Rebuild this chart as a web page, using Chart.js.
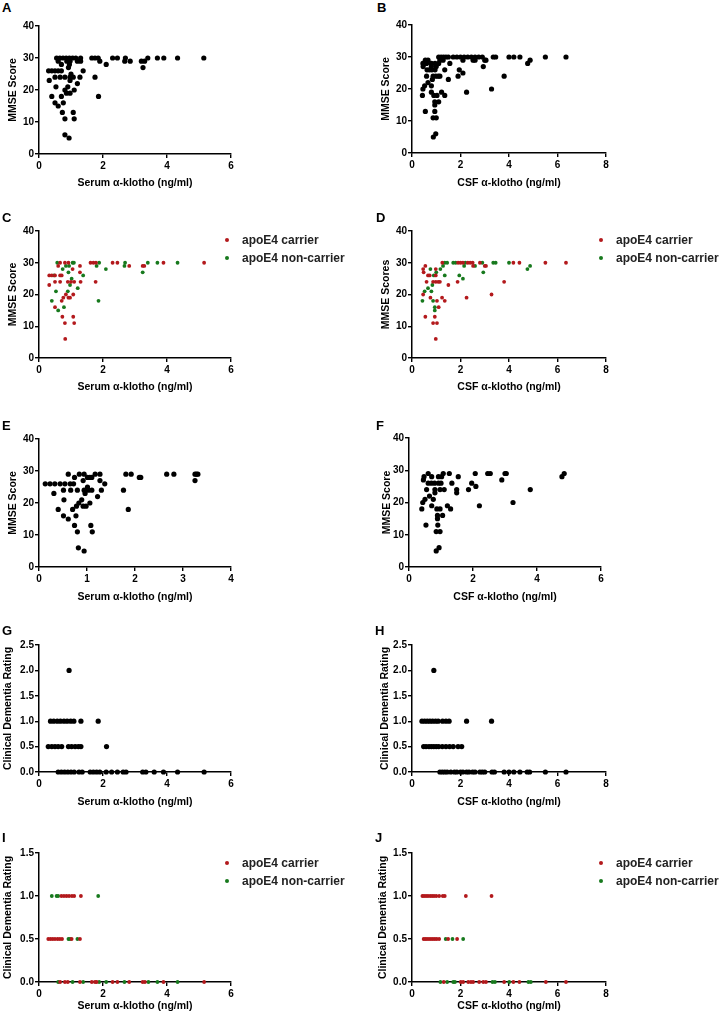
<!DOCTYPE html>
<html>
<head>
<meta charset="utf-8">
<script src="https://cdn.jsdelivr.net/npm/chart.js@4.4.1/dist/chart.umd.min.js"></script>
<style>
  body { margin: 0; background: #fff; font-family: Arial, "Liberation Sans", sans-serif; }
  #fig { position: relative; width: 720px; height: 1016px; overflow: hidden; }
  .box { position: absolute; }
  .tag { position: absolute; font-weight: bold; font-size: 13px; line-height: 13px; color: #000; }
  .key { position: absolute; font-weight: bold; font-size: 12px; line-height: 14px; color: #222; white-space: nowrap; }
  .key i { position: absolute; left: -17px; top: 5px; width: 4px; height: 4px; border-radius: 50%; }
</style>
</head>
<body>
<div id="fig"></div>
<script>
// values, [klotho ng/ml, score]
const serumMmse = [
  [0.55,30],[0.65,30],[0.75,30],[0.85,30],[0.95,30],[1.05,30],[1.15,30],[1.3,30],[1.65,30],[1.75,30],
  [1.85,30],[2.3,30],[2.45,30],[2.7,30],[3.4,30],[3.7,30],[3.9,30],[4.33,30],[5.15,30],
  [0.6,29],[0.87,29],[0.97,29],[1.2,29],[1.3,29],[1.9,29],[2.68,29],[2.85,29],[3.2,29],[3.3,29],
  [0.7,28],[0.95,28],[2.1,28],[0.92,27],[3.25,27],
  [0.3,26],[0.4,26],[0.5,26],[0.6,26],[0.7,26],[1.38,26],[1.0,25],
  [0.5,24],[0.66,24],[0.81,24],[0.97,24],[1.07,24],[1.28,24],[1.75,24],
  [0.32,23],[0.97,23],[1.2,22],[0.53,21],[0.9,21],[0.81,20],[1.1,20],[0.86,19],[0.97,19],
  [0.4,18],[0.7,18],[1.86,18],[0.5,16],[0.76,16],[0.6,15],[0.73,13],[1.07,13],
  [0.81,11],[1.1,11],[0.81,6],[0.94,5]
];
const csfMmse = [
  [1.1,30],[1.2,30],[1.3,30],[1.4,30],[1.5,30],[1.7,30],[1.85,30],[2.0,30],[2.15,30],[2.3,30],[2.45,30],
  [2.6,30],[2.75,30],[2.9,30],[3.35,30],[3.45,30],[4.0,30],[4.2,30],[4.45,30],[5.5,30],[6.35,30],
  [0.55,29],[0.66,29],[1.15,29],[1.28,29],[2.1,29],[2.52,29],[2.6,29],[3.0,29],[3.05,29],[4.87,29],
  [0.45,28],[0.6,28],[0.8,28],[0.95,28],[1.1,28],[1.56,28],[4.77,28],
  [0.46,27],[0.8,27],[1.0,27],[2.94,27],
  [0.62,26],[0.72,26],[0.82,26],[0.95,26],[1.35,26],[1.95,26],[2.1,25],
  [0.6,24],[0.87,24],[0.98,24],[1.08,24],[1.15,24],[1.9,24],[3.8,24],
  [0.84,23],[1.5,23],[0.66,22],[0.52,21],[0.8,21],[0.45,20],[3.28,20],
  [0.8,19],[1.22,19],[2.25,19],[0.43,18],[0.9,18],[1.03,18],[1.35,18],
  [0.94,16],[1.1,16],[0.94,15],[0.55,13],[0.94,13],[0.87,11],[1.0,11],[0.98,6],[0.88,5]
];
const serumMmseCarrier = [
  [0.66,30],[0.81,30],[0.92,30],[1.61,30],[1.7,30],[1.78,30],[2.3,30],[2.45,30],[3.89,30],[5.16,30],
  [0.6,29],[1.28,29],[2.82,29],[3.24,29],[3.29,29],[1.05,28],[1.28,27],
  [0.32,26],[0.4,26],[0.5,26],[0.66,26],[0.71,26],
  [0.5,24],[0.66,24],[0.9,24],[1.0,24],[1.1,24],[1.3,24],[1.77,24],
  [0.32,23],[0.84,20],[1.07,20],[0.76,19],[0.92,19],[0.97,19],[0.71,18],[0.5,16],
  [0.73,13],[1.07,13],[0.81,11],[1.1,11],[0.82,6]
];
const serumMmseNon = [
  [0.57,30],[1.05,30],[1.09,30],[1.88,30],[2.69,30],[3.4,30],[3.7,30],[4.33,30],
  [0.84,29],[0.94,29],[1.8,29],[2.67,29],[0.74,28],[2.09,28],[0.92,27],[3.24,27],
  [0.47,26],[1.38,26],[1.02,25],[0.97,23],[1.21,22],[0.53,21],[0.9,21],
  [0.4,18],[1.86,18],[0.78,16],[0.6,15]
];
const csfMmseCarrier = [
  [1.25,30],[1.9,30],[2.0,30],[2.1,30],[2.3,30],[2.4,30],[2.5,30],[2.8,30],[4.18,30],[4.43,30],[5.5,30],[6.35,30],
  [0.55,29],[2.52,29],[3.0,29],[3.05,29],[0.46,28],[0.98,28],[0.48,27],
  [0.66,26],[0.73,26],[0.98,26],
  [0.6,24],[0.87,24],[0.98,24],[1.08,24],[1.15,24],[1.88,24],[3.8,24],
  [1.5,23],[0.46,20],[3.28,20],[0.76,19],[1.24,19],[2.25,19],[1.03,18],[1.35,18],
  [1.1,16],[0.55,13],[0.94,13],[0.87,11],[1.03,11],[0.98,6]
];
const csfMmseNon = [
  [1.35,30],[1.45,30],[1.7,30],[1.8,30],[2.2,30],[2.9,30],[3.35,30],[3.45,30],[4.0,30],
  [1.28,29],[2.15,29],[2.6,29],[4.87,29],[0.76,28],[1.17,28],[4.76,28],[1.0,27],[2.94,27],
  [0.9,26],[1.35,26],[1.95,26],[2.1,25],[0.84,23],[0.66,22],[0.52,21],[0.8,21],
  [0.43,18],[0.87,18],[0.94,16],[0.94,15]
];
const serumMmseSub = [
  [0.61,29],[0.84,29],[0.94,29],[1.17,29],[1.27,29],[1.81,29],[1.92,29],[2.66,29],[2.81,29],[3.25,29],[3.28,29],[3.31,29],
  [0.74,28],[1.01,28],[1.06,28],[1.1,28],[2.09,28],[2.12,28],[0.92,27],[1.27,27],[3.25,27],
  [0.13,26],[0.23,26],[0.33,26],[0.44,26],[0.54,26],[0.65,26],[0.72,26],[1.37,26],[1.01,25],
  [0.51,24],[0.66,24],[0.8,24],[0.94,24],[1.03,24],[1.1,24],[1.3,24],[1.76,24],
  [0.31,23],[0.96,23],[1.22,22],[0.52,21],[0.89,21],[0.83,20],[1.06,20],[0.78,19],[0.92,19],[0.98,19],
  [0.4,18],[0.7,18],[1.86,18],[0.51,16],[0.77,16],[0.61,15],[0.74,13],[1.08,13],
  [0.8,11],[1.11,11],[0.82,6],[0.94,5]
];
const csfMmseSub = [
  [0.6,29],[1.07,29],[1.26,29],[2.07,29],[2.46,29],[2.54,29],[3.0,29],[3.04,29],[4.85,29],
  [0.47,28],[0.71,28],[0.92,28],[1.02,28],[1.54,28],[4.78,28],[0.45,27],[2.9,27],
  [0.6,26],[0.7,26],[0.8,26],[0.92,26],[1.0,26],[1.34,26],[1.96,26],[2.09,25],
  [0.55,24],[0.81,24],[0.97,24],[1.1,24],[1.49,24],[1.86,24],[3.79,24],
  [0.81,23],[1.49,23],[0.64,22],[0.5,21],[0.76,21],[0.43,20],[3.25,20],
  [0.71,19],[1.2,19],[2.2,19],[0.4,18],[0.87,18],[0.97,18],[1.3,18],
  [0.89,16],[1.05,16],[0.89,15],[0.53,13],[0.9,13],[0.85,11],[0.97,11],[0.94,6],[0.85,5]
];
const serumCdr = [
  [0.94,2],
  [0.36,1],[0.46,1],[0.57,1],[0.67,1],[0.78,1],[0.88,1],[0.99,1],[1.09,1],[1.31,1],[1.85,1],
  [0.29,0.5],[0.4,0.5],[0.5,0.5],[0.6,0.5],[0.71,0.5],[0.92,0.5],[1.02,0.5],[1.13,0.5],[1.23,0.5],[1.31,0.5],[2.11,0.5],
  [0.6,0],[0.7,0],[0.8,0],[0.9,0],[1.0,0],[1.1,0],[1.25,0],[1.35,0],[1.6,0],[1.7,0],[1.8,0],[1.9,0],
  [2.1,0],[2.27,0],[2.45,0],[2.63,0],[2.72,0],[3.24,0],[3.34,0],[3.6,0],[3.89,0],[4.33,0],[5.16,0]
];
const csfCdr = [
  [0.9,2],
  [0.41,1],[0.52,1],[0.63,1],[0.74,1],[0.85,1],[0.97,1],[1.08,1],[1.26,1],[1.4,1],[1.53,1],[2.25,1],[3.28,1],
  [0.48,0.5],[0.58,0.5],[0.7,0.5],[0.8,0.5],[0.9,0.5],[1.0,0.5],[1.1,0.5],[1.25,0.5],[1.4,0.5],[1.55,0.5],[1.7,0.5],[1.9,0.5],[2.05,0.5],
  [1.15,0],[1.25,0],[1.35,0],[1.45,0],[1.6,0],[1.75,0],[1.85,0],[2.0,0],[2.1,0],[2.25,0],[2.35,0],[2.5,0],[2.6,0],
  [2.8,0],[2.9,0],[3.0,0],[3.3,0],[3.4,0],[3.8,0],[4.0,0],[4.2,0],[4.45,0],[4.75,0],[4.85,0],[5.5,0],[6.35,0]
];
const serumCdrCarrier = [
  [0.7,1],[0.78,1],[0.86,1],[0.94,1],[1.03,1],[1.1,1],[1.31,1],
  [0.29,0.5],[0.36,0.5],[0.43,0.5],[0.5,0.5],[0.58,0.5],[0.65,0.5],[0.72,0.5],[1.02,0.5],[1.28,0.5],
  [0.66,0],[0.81,0],[0.9,0],[1.28,0],[1.65,0],[1.75,0],[1.8,0],[2.3,0],[2.45,0],[2.82,0],[3.24,0],[3.31,0],[3.89,0],[5.16,0]
];
const serumCdrNon = [
  [0.4,1],[0.55,1],[0.6,1],[1.85,1],[0.92,0.5],[0.97,0.5],[1.2,0.5],
  [0.6,0],[1.05,0],[1.38,0],[1.88,0],[2.1,0],[2.67,0],[3.42,0],[3.7,0],[4.33,0]
];
const csfCdrCarrier = [
  [0.43,1],[0.5,1],[0.58,1],[0.66,1],[0.75,1],[0.83,1],[0.91,1],[1.0,1],[1.12,1],[1.27,1],[1.35,1],[2.22,1],[3.28,1],
  [0.48,0.5],[0.55,0.5],[0.62,0.5],[0.7,0.5],[0.78,0.5],[0.86,0.5],[0.94,0.5],[1.02,0.5],[1.12,0.5],[1.49,0.5],[1.86,0.5],
  [1.31,0],[2.01,0],[2.11,0],[2.32,0],[2.43,0],[2.52,0],[2.77,0],[2.94,0],[3.05,0],[3.8,0],[4.18,0],[4.43,0],[5.52,0],[6.35,0]
];
const csfCdrNon = [
  [1.39,0.5],[1.67,0.5],[2.11,0.5],
  [1.17,0],[1.45,0],[1.7,0],[1.77,0],[3.32,0],[3.42,0],[4.01,0],[4.8,0],[4.9,0]
];

const seriesNames = ["apoE4 carrier", "apoE4 non-carrier"];
const serumTitle = "Serum α-klotho (ng/ml)";
const csfTitle = "CSF α-klotho (ng/ml)";

const FONT = 'Arial, "Liberation Sans", sans-serif';
const BLACK = "#000000";
const RED = "#b3191c";
const GREEN = "#17791d";
const fig = document.getElementById("fig");

function drawPanel(p) {
  const top = p.yTop - 10;
  const w = 360;
  const h = Math.round(p.titleY + 6.3 - top);
  const wrap = document.createElement("div");
  wrap.className = "box";
  wrap.style.left = p.left + "px";
  wrap.style.top = top + "px";
  const cv = document.createElement("canvas");
  cv.width = w; cv.height = h;
  cv.style.width = w + "px"; cv.style.height = h + "px";
  wrap.appendChild(cv);
  fig.appendChild(wrap);

  const axisW = p.x0 - p.left;
  const axisH = h - (p.yBot - top);
  const tickFont = { family: FONT, size: 10, weight: "bold" };
  const titleFont = { family: FONT, size: 10.5, weight: "bold", lineHeight: 1.2 };

  new Chart(cv.getContext("2d"), {
    type: "scatter",
    data: {
      datasets: p.sets.map(s => ({
        label: s.label,
        data: s.data,
        backgroundColor: s.color,
        borderColor: s.color,
        borderWidth: 0,
        pointRadius: s.r,
        pointHoverRadius: s.r,
        clip: false
      }))
    },
    options: {
      responsive: false,
      animation: false,
      events: [],
      layout: { padding: { top: 10, right: w - (p.x1 - p.left), left: 0, bottom: 0 } },
      plugins: { legend: { display: false }, tooltip: { enabled: false } },
      scales: {
        x: {
          type: "linear", min: 0, max: p.xMax,
          ticks: { stepSize: p.xStep, color: BLACK, font: tickFont, padding: 2, maxRotation: 0 },
          grid: { drawOnChartArea: false, drawTicks: true, tickLength: 4, color: BLACK, lineWidth: 1.4 },
          border: { color: BLACK, width: 1.5 },
          title: { display: true, text: p.xTitle, color: BLACK, font: titleFont, padding: 0 },
          afterFit: s => { s.height = axisH; }
        },
        y: {
          type: "linear", min: 0, max: p.yMax,
          ticks: {
            stepSize: p.yStep, color: BLACK, font: tickFont, padding: 1,
            callback: v => v.toFixed(p.yDec)
          },
          grid: { drawOnChartArea: false, drawTicks: true, tickLength: 4, color: BLACK, lineWidth: 1.4 },
          border: { color: BLACK, width: 1.5 },
          title: {
            display: true, text: p.yTitle, color: BLACK, font: titleFont,
            padding: { top: Math.max(0, p.yTitleX - p.left - 6.3), bottom: 0 }
          },
          afterFit: s => { s.width = axisW; }
        }
      }
    }
  });
}

function tag(letter, x, y) {
  const d = document.createElement("div");
  d.className = "tag";
  d.style.left = x + "px";
  d.style.top = y + "px";
  d.textContent = letter;
  fig.appendChild(d);
}

function key(x, y, colors) {
  colors.forEach((c, i) => {
    const d = document.createElement("div");
    d.className = "key";
    d.style.left = x + "px";
    d.style.top = (y - 7 + i * 17.5) + "px";
    const dot = document.createElement("i");
    dot.style.background = c;
    d.appendChild(dot);
    d.appendChild(document.createTextNode(seriesNames[i]));
    fig.appendChild(d);
  });
}

const mmse = { yMax: 40, yStep: 10, yDec: 0 };
const cdr = { yMax: 2.5, yStep: 0.5, yDec: 1 };
const cdr2 = { yMax: 1.5, yStep: 0.5, yDec: 1 };
const black = d => [{ data: d, color: BLACK, r: 2.6 }];
const split = (a, b) => [
  { label: seriesNames[0], data: a, color: RED, r: 1.9 },
  { label: seriesNames[1], data: b, color: GREEN, r: 1.9 }
];

// left column
drawPanel({ ...mmse, left: 0, x0: 39, x1: 231, yTop: 26, yBot: 154, titleY: 183, yTitleX: 13,
  xMax: 6, xStep: 2, xTitle: serumTitle, yTitle: "MMSE Score", sets: black(serumMmse) });
drawPanel({ ...mmse, left: 0, x0: 39, x1: 231, yTop: 231, yBot: 358, titleY: 387, yTitleX: 13,
  xMax: 6, xStep: 2, xTitle: serumTitle, yTitle: "MMSE Score", sets: split(serumMmseCarrier, serumMmseNon) });
drawPanel({ ...mmse, left: 0, x0: 39, x1: 231, yTop: 439, yBot: 567, titleY: 597, yTitleX: 13,
  xMax: 4, xStep: 1, xTitle: serumTitle, yTitle: "MMSE Score", sets: black(serumMmseSub) });
drawPanel({ ...cdr, left: 0, x0: 39, x1: 231, yTop: 645, yBot: 772, titleY: 802, yTitleX: 8,
  xMax: 6, xStep: 2, xTitle: serumTitle, yTitle: "Clinical Dementia Rating", sets: black(serumCdr) });
drawPanel({ ...cdr2, left: 0, x0: 39, x1: 231, yTop: 853, yBot: 982, titleY: 1006, yTitleX: 8,
  xMax: 6, xStep: 2, xTitle: serumTitle, yTitle: "Clinical Dementia Rating", sets: split(serumCdrCarrier, serumCdrNon) });

// right column
drawPanel({ ...mmse, left: 360, x0: 412, x1: 606, yTop: 25, yBot: 153, titleY: 183, yTitleX: 386,
  xMax: 8, xStep: 2, xTitle: csfTitle, yTitle: "MMSE Score", sets: black(csfMmse) });
drawPanel({ ...mmse, left: 360, x0: 412, x1: 606, yTop: 231, yBot: 358, titleY: 387, yTitleX: 386,
  xMax: 8, xStep: 2, xTitle: csfTitle, yTitle: "MMSE Scores", sets: split(csfMmseCarrier, csfMmseNon) });
drawPanel({ ...mmse, left: 360, x0: 409, x1: 601, yTop: 438, yBot: 567, titleY: 597, yTitleX: 387,
  xMax: 6, xStep: 2, xTitle: csfTitle, yTitle: "MMSE Score", sets: black(csfMmseSub) });
drawPanel({ ...cdr, left: 360, x0: 412, x1: 606, yTop: 645, yBot: 772, titleY: 802, yTitleX: 385,
  xMax: 8, xStep: 2, xTitle: csfTitle, yTitle: "Clinical Dementia Rating", sets: black(csfCdr) });
drawPanel({ ...cdr2, left: 360, x0: 412, x1: 606, yTop: 853, yBot: 982, titleY: 1006, yTitleX: 383,
  xMax: 8, xStep: 2, xTitle: csfTitle, yTitle: "Clinical Dementia Rating", sets: split(csfCdrCarrier, csfCdrNon) });

tag("A", 2, 0.7);   tag("B", 377, 0.7);
tag("C", 2, 210.7); tag("D", 376, 210.7);
tag("E", 2, 419);   tag("F", 376, 419);
tag("G", 2, 624);   tag("H", 375, 624);
tag("I", 2, 831);   tag("J", 375, 831);

key(242, 240, [RED, GREEN]);
key(616, 240, [RED, GREEN]);
key(242, 863, [RED, GREEN]);
key(616, 863, [RED, GREEN]);
</script>
</body>
</html>
